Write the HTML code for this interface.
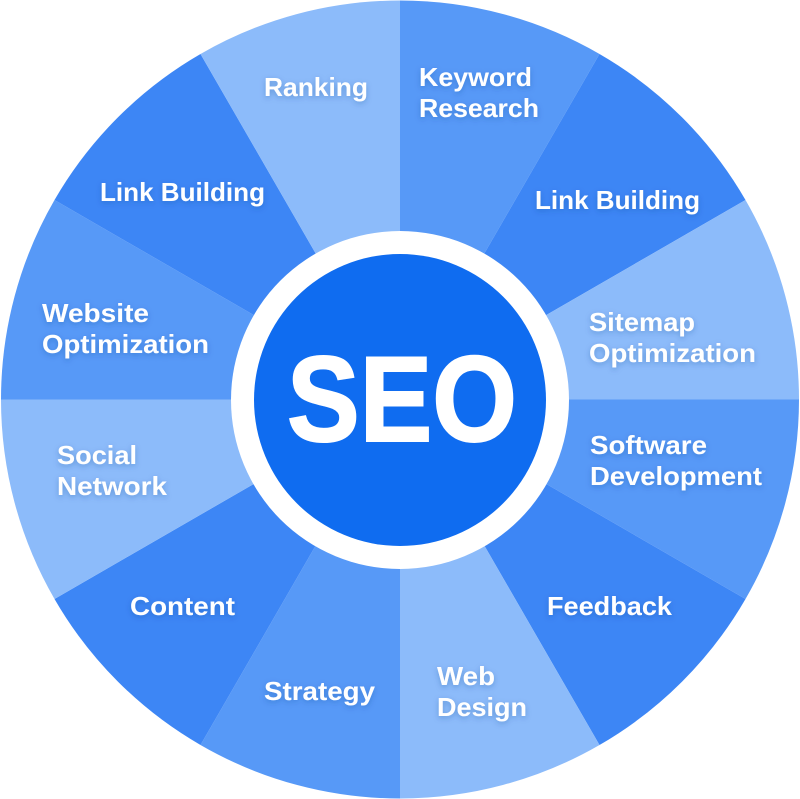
<!DOCTYPE html>
<html><head><style>
html,body{margin:0;padding:0;background:#fff;width:800px;height:799px;overflow:hidden}
text{font-family:"Liberation Sans",sans-serif;font-weight:bold;fill:#fff}
</style></head><body>
<svg width="800" height="799" viewBox="0 0 800 799" xmlns="http://www.w3.org/2000/svg">
<defs><filter id="sh" x="-20%" y="-50%" width="140%" height="200%"><feDropShadow dx="0" dy="2" stdDeviation="3" flood-color="#0b3c8c" flood-opacity="0.3"/></filter></defs>
<g>
<path d="M400 399.5 L400 0.5 A399 399 0 0 1 599.5 54 Z" fill="#5799f7"/>
<path d="M400 399.5 L599.5 54 A399 399 0 0 1 745.5 200 Z" fill="#3d86f5"/>
<path d="M400 399.5 L745.5 200 A399 399 0 0 1 799 399.5 Z" fill="#8cbbfa"/>
<path d="M400 399.5 L799 399.5 A399 399 0 0 1 745.5 599 Z" fill="#5799f7"/>
<path d="M400 399.5 L745.5 599 A399 399 0 0 1 599.5 745 Z" fill="#3d86f5"/>
<path d="M400 399.5 L599.5 745 A399 399 0 0 1 400 798.5 Z" fill="#8cbbfa"/>
<path d="M400 399.5 L400 798.5 A399 399 0 0 1 200.5 745 Z" fill="#5799f7"/>
<path d="M400 399.5 L200.5 745 A399 399 0 0 1 54.5 599 Z" fill="#3d86f5"/>
<path d="M400 399.5 L54.5 599 A399 399 0 0 1 1 399.5 Z" fill="#8cbbfa"/>
<path d="M400 399.5 L1 399.5 A399 399 0 0 1 54.5 200 Z" fill="#5799f7"/>
<path d="M400 399.5 L54.5 200 A399 399 0 0 1 200.5 54 Z" fill="#3d86f5"/>
<path d="M400 399.5 L200.5 54 A399 399 0 0 1 400 0.5 Z" fill="#8cbbfa"/>
</g>
<circle cx="400" cy="400" r="169" fill="#fff"/>
<circle cx="400" cy="400" r="146" fill="#0f6cf0"/>
<g filter="url(#sh)" font-size="26">
<text x="264" y="96" textLength="104" lengthAdjust="spacingAndGlyphs">Ranking</text>
<text x="419" y="86" textLength="113" lengthAdjust="spacingAndGlyphs">Keyword</text>
<text x="419" y="117" textLength="120" lengthAdjust="spacingAndGlyphs">Research</text>
<text x="535" y="209" textLength="165" lengthAdjust="spacingAndGlyphs">Link Building</text>
<text x="589" y="331" textLength="106" lengthAdjust="spacingAndGlyphs">Sitemap</text>
<text x="589" y="362" textLength="167" lengthAdjust="spacingAndGlyphs">Optimization</text>
<text x="590" y="454" textLength="117" lengthAdjust="spacingAndGlyphs">Software</text>
<text x="590" y="485" textLength="172" lengthAdjust="spacingAndGlyphs">Development</text>
<text x="547" y="615" textLength="125" lengthAdjust="spacingAndGlyphs">Feedback</text>
<text x="437" y="685" textLength="58" lengthAdjust="spacingAndGlyphs">Web</text>
<text x="437" y="716" textLength="90" lengthAdjust="spacingAndGlyphs">Design</text>
<text x="264" y="700" textLength="111" lengthAdjust="spacingAndGlyphs">Strategy</text>
<text x="130" y="615" textLength="105" lengthAdjust="spacingAndGlyphs">Content</text>
<text x="57" y="464" textLength="80" lengthAdjust="spacingAndGlyphs">Social</text>
<text x="57" y="495" textLength="110" lengthAdjust="spacingAndGlyphs">Network</text>
<text x="42" y="322" textLength="107" lengthAdjust="spacingAndGlyphs">Website</text>
<text x="42" y="353" textLength="167" lengthAdjust="spacingAndGlyphs">Optimization</text>
<text x="100" y="201" textLength="165" lengthAdjust="spacingAndGlyphs">Link Building</text>
</g>
<text x="287" y="441" font-size="122" textLength="230" lengthAdjust="spacingAndGlyphs" stroke="#fff" stroke-width="2">SEO</text>
</svg>
</body></html>
